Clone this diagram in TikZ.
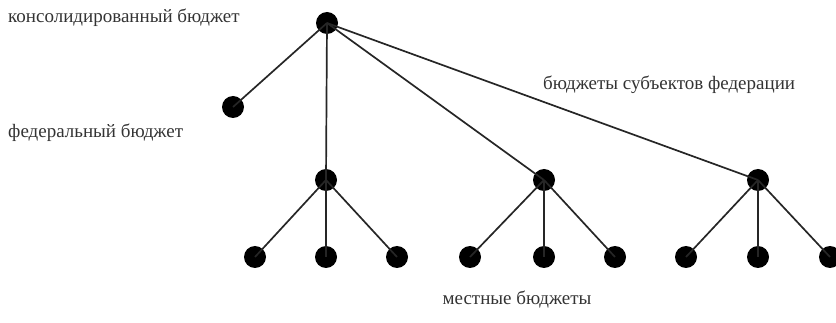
\documentclass[tikz,border=0pt]{standalone}
\usepackage{fontspec}
\setmainfont{Liberation Serif}
\usepackage{tikz}
\usetikzlibrary{positioning}

\begin{document}
\begin{tikzpicture}[x=1pt, y=-1pt,
    every node/.style={font=\fontsize{19}{21}\selectfont, text=black!80},
    dotnode/.style={circle, draw=none, fill=black, minimum size=22pt, inner sep=0pt},
    labelnode/.style={anchor=west, inner sep=0pt},
    edge/.style={line width=1.7pt, black!85}]

    \useasboundingbox (0,0) rectangle (836,323);

    % Nodes
    \node[dotnode] (root) at (327,23) {};
    \node[dotnode] (federal) at (233,107) {};

    \node[dotnode] (region1) at (326,180) {};
    \node[dotnode] (region2) at (544,180) {};
    \node[dotnode] (region3) at (758,180) {};

    \node[dotnode] (local1) at (255,257) {};
    \node[dotnode] (local2) at (326,257) {};
    \node[dotnode] (local3) at (397,257) {};
    \node[dotnode] (local4) at (470,257) {};
    \node[dotnode] (local5) at (544,257) {};
    \node[dotnode] (local6) at (615,257) {};
    \node[dotnode] (local7) at (686,257) {};
    \node[dotnode] (local8) at (758,257) {};
    \node[dotnode] (local9) at (830,257) {};

    % Labels
    \node[labelnode] (conslabel) at (8,18) {консолидированный бюджет};
    \node[labelnode] (fedlabel) at (8,133) {федеральный бюджет};
    \node[labelnode] (reglabel) at (543,85) {бюджеты субъектов федерации};
    \node[inner sep=0pt] (loclabel) at (517,300) {местные бюджеты};

    % Edges
    \draw[edge] (root.center) -- (federal.center);
    \draw[edge] (root.center) -- (region1.center);
    \draw[edge] (root.center) -- (region2.center);
    \draw[edge] (root.center) -- (region3.center);

    \draw[edge] (region1.center) -- (local1.center);
    \draw[edge] (region1.center) -- (local2.center);
    \draw[edge] (region1.center) -- (local3.center);
    \draw[edge] (region2.center) -- (local4.center);
    \draw[edge] (region2.center) -- (local5.center);
    \draw[edge] (region2.center) -- (local6.center);
    \draw[edge] (region3.center) -- (local7.center);
    \draw[edge] (region3.center) -- (local8.center);
    \draw[edge] (region3.center) -- (local9.center);

\end{tikzpicture}
\end{document}
